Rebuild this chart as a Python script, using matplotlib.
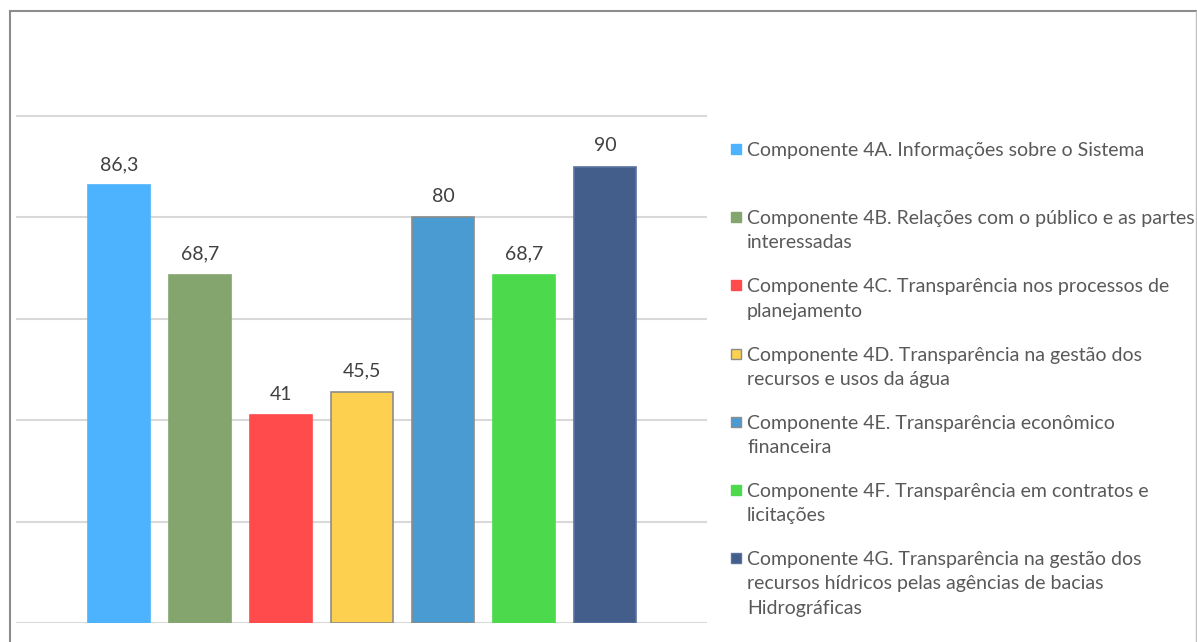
import matplotlib.pyplot as plt
from matplotlib.lines import Line2D
from matplotlib.patches import Rectangle

plt.rcParams['font.family'] = ['Lato', 'DejaVu Sans']

components = ['4A', '4B', '4C', '4D', '4E', '4F', '4G']
values = [86.3, 68.7, 41, 45.5, 80, 68.7, 90]
value_labels = ['86,3', '68,7', '41', '45,5', '80', '68,7', '90']
legend_labels = [
    'Componente 4A. Informações sobre o Sistema',
    'Componente 4B. Relações com o público e as partes\ninteressadas',
    'Componente 4C. Transparência nos processos de\nplanejamento',
    'Componente 4D. Transparência na gestão dos\nrecursos e usos da água',
    'Componente 4E. Transparência econômico\nfinanceira',
    'Componente 4F. Transparência em contratos e\nlicitações',
    'Componente 4G. Transparência na gestão dos\nrecursos hídricos pelas agências de bacias\nHidrográficas',
]
colors = ['#4db3ff', '#84a66e', '#ff4b4b', '#fdd04f', '#4b9bd3', '#4cda4c', '#435e8a']
edges = ['#4db3ff', '#84a66e', '#ff4b4b', '#8c8c8c', '#8c8c8c', '#4cda4c', '#5a72a0']
y_ticks = [0, 20, 40, 60, 80, 100]

W, H = 1197, 642
fig = plt.figure(figsize=(W / 100, H / 100), dpi=100)
ax = fig.add_axes([16 / W, (H - 623) / H, (707 - 16) / W, 608.4 / H])

x = list(range(len(values)))
bars = ax.bar(x, values, width=0.77, color=colors, edgecolor=edges,
              linewidth=1.2, zorder=2)
for b, lab in zip(bars, value_labels):
    ax.annotate(lab, (b.get_x() + b.get_width() / 2, b.get_height()),
                xytext=(0, 9), textcoords='offset points',
                ha='center', va='bottom', fontsize=14, color='#404040')

ax.set_ylim(0, 120)
ax.set_xlim(-1.27, 7.26)
ax.set_yticks(y_ticks)
ax.yaxis.grid(True, color='#d9d9d9', linewidth=1.5, zorder=1)
ax.set_axisbelow(True)
ax.tick_params(left=False, bottom=False, labelleft=False, labelbottom=False)
for s in ax.spines.values():
    s.set_visible(False)

# legend, one slot per component
for i, (lab, c, e) in enumerate(zip(legend_labels, colors, edges)):
    ypix = 149 + 68.2 * i
    fig.patches.append(Rectangle((731 / W, (H - ypix - 5) / H), 10 / W, 10 / H,
                                 facecolor=c, edgecolor=e, linewidth=1,
                                 transform=fig.transFigure, figure=fig))
    fig.text(747 / W, (H - ypix + 7) / H, lab, ha='left', va='top',
             fontsize=14, color='#595959', linespacing=1.52,
             transform=fig.transFigure)

# outer frame
fig.add_artist(Line2D([10 / W, 10 / W], [0, (H - 11) / H], color='#8c8c8c', lw=1.5))
fig.add_artist(Line2D([10 / W, 1196 / W], [(H - 11) / H, (H - 11) / H], color='#8c8c8c', lw=1.5))
fig.add_artist(Line2D([1196 / W, 1196 / W], [0, (H - 11) / H], color='#bfbfbf', lw=1))

fig.savefig('out.png', dpi=100)
